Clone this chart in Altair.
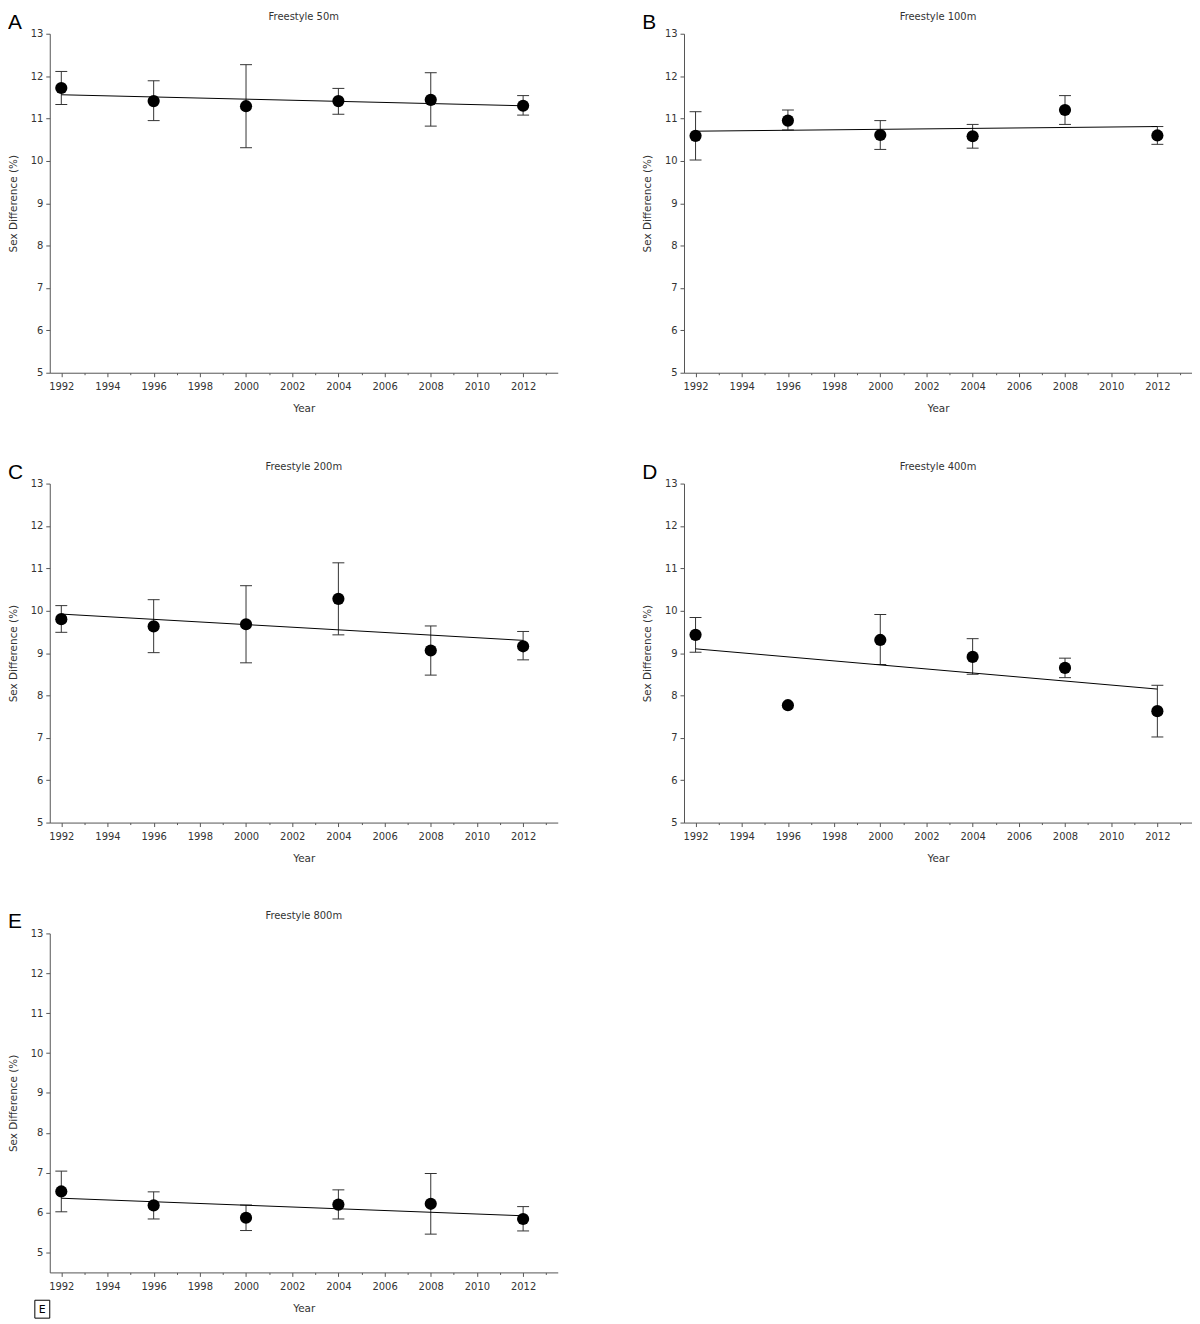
import altair as alt
import pandas as pd

YEARS = [1992, 1996, 2000, 2004, 2008, 2012]

EVENTS = ["Freestyle 50m", "Freestyle 100m", "Freestyle 200m", "Freestyle 400m", "Freestyle 800m"]
LETTERS = ["A", "B", "C", "D", "E"]
Y_MIN = [5, 5, 5, 5, 4.5]

MEAN_50 = [11.72, 11.41, 11.29, 11.41, 11.44, 11.30]
HI_50 = [12.11, 11.89, 12.27, 11.71, 12.08, 11.54]
LO_50 = [11.33, 10.95, 10.31, 11.10, 10.82, 11.08]
TREND_50 = [11.56, 11.30]

MEAN_100 = [10.59, 10.95, 10.61, 10.58, 11.20, 10.60]
HI_100 = [11.16, 11.20, 10.95, 10.86, 11.54, 10.81]
LO_100 = [10.02, 10.73, 10.27, 10.30, 10.86, 10.39]
TREND_100 = [10.70, 10.81]

MEAN_200 = [9.80, 9.63, 9.68, 10.28, 9.06, 9.16]
HI_200 = [10.12, 10.26, 10.59, 11.13, 9.64, 9.51]
LO_200 = [9.49, 9.01, 8.77, 9.43, 8.48, 8.84]
TREND_200 = [9.92, 9.30]

MEAN_400 = [9.43, 7.77, 9.31, 8.91, 8.65, 7.63]
HI_400 = [9.84, None, 9.91, 9.34, 8.88, 8.24]
LO_400 = [9.02, None, 8.73, 8.50, 8.42, 7.02]
TREND_400 = [9.10, 8.15]

MEAN_800 = [6.53, 6.18, 5.87, 6.20, 6.22, 5.84]
HI_800 = [7.04, 6.52, 6.19, 6.57, 6.98, 6.15]
LO_800 = [6.02, 5.84, 5.55, 5.84, 5.46, 5.54]
TREND_800 = [6.36, 5.92]

MEANS = [MEAN_50, MEAN_100, MEAN_200, MEAN_400, MEAN_800]
HIS = [HI_50, HI_100, HI_200, HI_400, HI_800]
LOS = [LO_50, LO_100, LO_200, LO_400, LO_800]
TRENDS = [TREND_50, TREND_100, TREND_200, TREND_400, TREND_800]

X_TICKS = list(range(1992, 2014))
Y_TICKS = [5 + 0.5 * k for k in range(17)]
FONT = "DejaVu Sans"
W, H = 511, 341


def panel(i):
    df = pd.DataFrame({"year": YEARS, "mean": MEANS[i], "lo": LOS[i], "hi": HIS[i]})
    trend = pd.DataFrame({"year": [YEARS[0], YEARS[-1]], "fit": TRENDS[i]})

    xaxis = alt.Axis(
        values=X_TICKS,
        tickSize={"condition": {"test": "datum.value % 2 === 0", "value": 4}, "value": 2},
        labelExpr="datum.value % 2 === 0 ? datum.label : ''",
        format="d",
        labelOverlap=False,
        labelPadding=5,
        titlePadding=12,
        grid=False,
    )
    yaxis = alt.Axis(
        values=Y_TICKS,
        tickSize={"condition": {"test": "datum.value % 1 === 0", "value": 4}, "value": 2},
        labelExpr="datum.value % 1 === 0 ? datum.label : ''",
        format="d",
        labelOverlap=False,
        labelPadding=3,
        titlePadding=12,
        grid=False,
    )
    xs = alt.Scale(domain=[1991.5, 2013.5], nice=False, zero=False)
    ys = alt.Scale(domain=[Y_MIN[i], 13], nice=False, zero=False)

    def X():
        return alt.X("year:Q", scale=xs, axis=xaxis, title="Year")

    def Y(field):
        return alt.Y(f"{field}:Q", scale=ys, axis=yaxis, title="Sex Difference (%)")

    base = alt.Chart(df)
    valid = base.transform_filter("isValid(datum.lo) && isValid(datum.hi)")
    bars = valid.mark_rule(color="#333", strokeWidth=1).encode(x=X(), y=Y("lo"), y2="hi:Q")
    cap_hi = valid.mark_tick(orient="horizontal", size=12, thickness=1, color="#333", opacity=1).encode(x=X(), y=Y("hi"))
    cap_lo = valid.mark_tick(orient="horizontal", size=12, thickness=1, color="#333", opacity=1).encode(x=X(), y=Y("lo"))
    line = alt.Chart(trend).mark_line(color="black", strokeWidth=1).encode(x=X(), y=Y("fit"))
    pts = base.mark_circle(size=150, color="black", opacity=1).encode(x=X(), y=Y("mean"))

    lab = pd.DataFrame({"letter": [LETTERS[i]], "event": [EVENTS[i]]})
    letter = alt.Chart(lab).mark_text(
        align="left", baseline="top", fontSize=21, font="Liberation Sans", color="black"
    ).encode(x=alt.value(-42), y=alt.value(-22), text="letter:N")
    title = alt.Chart(lab).mark_text(
        align="center", baseline="top", fontSize=10, font=FONT, color="#333"
    ).encode(x=alt.value(W / 2), y=alt.value(-22), text="event:N")

    layers = [bars, cap_hi, cap_lo, line, pts, letter, title]
    if i == 4:
        box = alt.Chart(pd.DataFrame({"t": ["E"]})).mark_rect(
            fill="white", stroke="black", strokeWidth=1
        ).encode(x=alt.value(-15), x2=alt.value(0), y=alt.value(369), y2=alt.value(387))
        box_t = alt.Chart(pd.DataFrame({"t": ["E"]})).mark_text(
            align="center", baseline="middle", fontSize=11, font=FONT, color="black"
        ).encode(x=alt.value(-7.5), y=alt.value(378.5), text="t:N")
        layers += [box, box_t]

    return alt.layer(*layers).properties(width=W, height=H)


chart = alt.concat(
    *[panel(i) for i in range(5)],
    columns=2,
    spacing={"row": 111.5, "column": 127},
    bounds="flush",
).properties(padding=0).configure_view(stroke=None).configure_axis(
    domainColor="#555",
    tickColor="#555",
    labelFont=FONT,
    labelFontSize=10,
    labelColor="#333",
    titleFont=FONT,
    titleFontSize=10.5,
    titleFontWeight="normal",
    titleColor="#333",
)

chart.save("out.html", embed_options={"renderer": "svg", "actions": False})
